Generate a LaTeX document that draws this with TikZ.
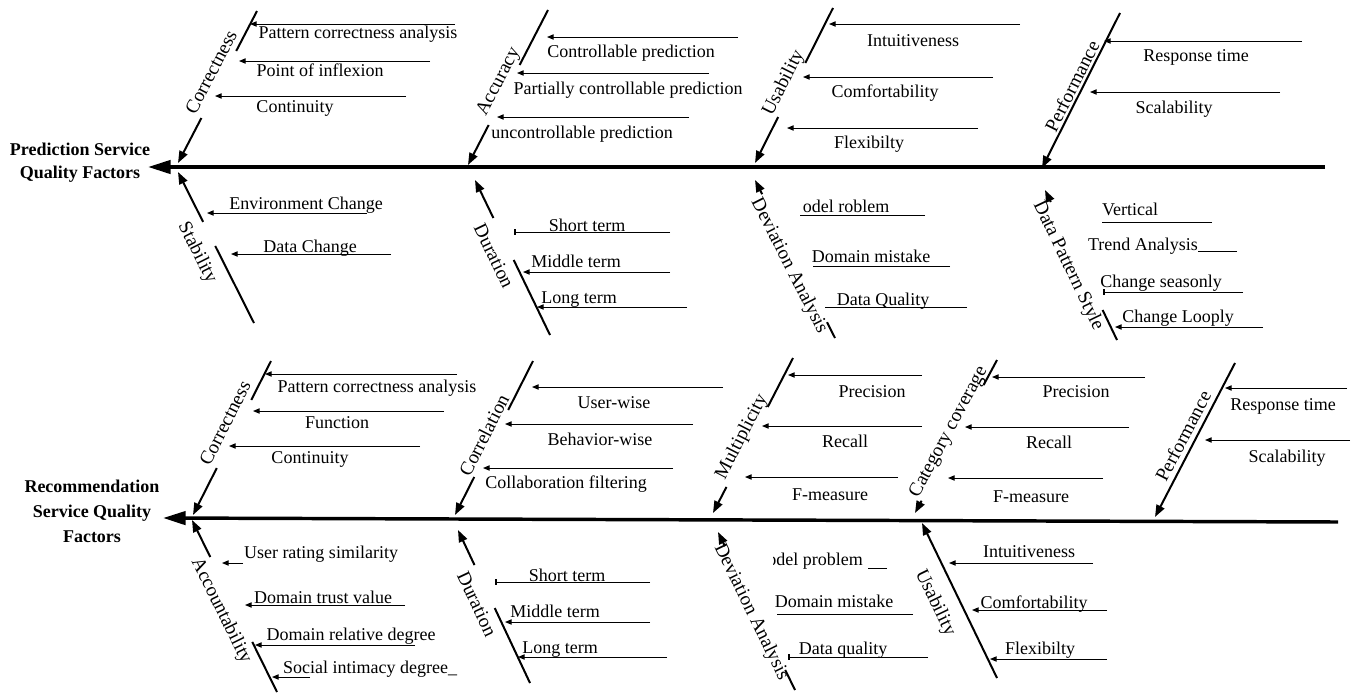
\documentclass[tikz,border=0pt]{standalone}
\usepackage{fontspec}
\setmainfont{Liberation Serif}
\usetikzlibrary{arrows.meta,calc}
\newcommand\myfs{\fontsize{13.5}{17}\selectfont}
\newcommand\catfs{\fontsize{14.5}{17}\selectfont}
% sub arrow: [style]{name}{x right}{x tip}{y}
\newcommand\sarr[5][sub]{\coordinate (#2r) at (#3,#5);\coordinate (#2t) at (#4,#5);\draw[#1] (#2r) -- (#2t);}
% bone with a gap: {tip}{far end}{frac a}{frac b}
\newcommand\bonegap[4]{\draw[bonea] ($(#1)!#3!(#2)$) -- (#1);\draw[bone] ($(#1)!#4!(#2)$) -- (#2);}
\tikzset{
  spine/.style={line width=2.6pt,-{Triangle[length=17pt,width=10pt]}},
  bone/.style={line width=1.5pt},
  bonea/.style={line width=1.5pt,-{Triangle[length=9pt,width=6.5pt]}},
  sub/.style={line width=0.7pt,-{Triangle[length=5pt,width=4pt]}},
  subbar/.style={line width=0.7pt,-{Bar[width=4pt,line width=1.4pt]}},
  plain/.style={line width=0.7pt},
  lbl/.style={font=\myfs,inner sep=0pt,anchor=base},
  cat/.style={font=\catfs,inner sep=1pt},
  title/.style={font=\myfs\bfseries,align=center,inner sep=0pt},
}
\begin{document}
\begin{tikzpicture}[x=0.75pt,y=-0.75pt]
\useasboundingbox (0,0) rectangle (1359,693);
% ================= Prediction =================
\node[title] (title1) at (80,163) {Prediction Service\\Quality Factors};
\coordinate (S1r) at (1325,167); \coordinate (S1l) at (148,167);
\draw[spine] (S1r) -- (S1l);
% upper bones
\coordinate (CorT) at (257,11);  \coordinate (CorP) at (178,163);
\bonegap{CorP}{CorT}{0.296}{0.737}
\node[cat,rotate=62.5] (corl) at (211,72) {Correctness};
\coordinate (AccT) at (548,10);  \coordinate (AccP) at (468,165);
\bonegap{AccP}{AccT}{0.258}{0.645}
\node[cat,rotate=62.7] (accl) at (499,82) {Accuracy};
\coordinate (UsaT) at (833,8);   \coordinate (UsaP) at (755,163);
\bonegap{UsaP}{UsaT}{0.297}{0.645}
\node[cat,rotate=63.3] (usal) at (784,83) {Usability};
\coordinate (PerT) at (1120,13); \coordinate (PerP) at (1042,168);
\draw[bonea] (PerT) -- (PerP);
\node[cat,rotate=63.3] (perl) at (1072,86) {Performance};
% lower bones
\coordinate (StaP) at (178,172); \coordinate (StaB) at (254,323);
\bonegap{StaP}{StaB}{0.33}{0.49}
\node[cat,rotate=-63.3] (stal) at (197,253) {Stability};
\coordinate (DurP) at (475,180); \coordinate (DurB) at (550,335);
\bonegap{DurP}{DurB}{0.245}{0.516}
\node[cat,rotate=-64.2] (durl) at (494,256) {Duration};
\coordinate (DevP) at (755,180); \coordinate (DevB) at (835,338);
\bonegap{DevP}{DevB}{0.09}{0.9}
\node[cat,rotate=-63.1] (devl) at (789,266) {Deviation Analysis};
\coordinate (DpsP) at (1045,190); \coordinate (DpsB) at (1117,340);
\bonegap{DpsP}{DpsB}{0.08}{0.8}
\node[cat,rotate=-64.4] (dpsl) at (1068,266) {Data Pattern Style};
% sub items
\sarr{c1}{455}{250}{24}   \node[lbl] (c1l) at (358,38) {Pattern correctness analysis};
\sarr{c2}{430}{239}{61}   \node[lbl] (c2l) at (320,76) {Point of inflexion};
\sarr{c3}{406}{215}{96}   \node[lbl] (c3l) at (295,112) {Continuity};
\sarr{a1}{738}{547}{37}   \node[lbl] (a1l) at (631,57) {Controllable prediction};
\sarr{a2}{709}{517}{73}   \node[lbl] (a2l) at (628,94) {Partially controllable prediction};
\sarr{a3}{689}{497}{117}  \node[lbl] (a3l) at (582,138) {uncontrollable prediction};
\sarr{u1}{1020}{829}{24}  \node[lbl] (u1l) at (913,46) {Intuitiveness};
\sarr{u2}{993}{803}{77}   \node[lbl] (u2l) at (885,97) {Comfortability};
\sarr{u3}{978}{787}{128}  \node[lbl] (u3l) at (869,148) {Flexibilty};
\sarr{p1}{1302}{1104}{41} \node[lbl] (p1l) at (1196,61) {Response time};
\sarr{p2}{1280}{1090}{92} \node[lbl] (p2l) at (1174,113) {Scalability};
\sarr{s1}{367}{207}{213}  \node[lbl] (s1l) at (306,209) {Environment Change};
\sarr{s2}{391}{231}{254}  \node[lbl] (s2l) at (310,252) {Data Change};
\sarr[subbar]{d1}{670}{514}{232} \node[lbl] (d1l) at (587,231) {Short term};
\sarr{d2}{670}{523}{272}  \node[lbl] (d2l) at (576,267) {Middle term};
\sarr{d3}{687}{537}{307}  \node[lbl] (d3l) at (579,303) {Long term};
\sarr[plain]{v1}{925}{800}{215} \node[lbl] (v1l) at (846,212) {odel roblem};
\sarr[plain]{v2}{950}{813}{266} \node[lbl] (v2l) at (871,262) {Domain mistake};
\sarr[plain]{v3}{967}{825}{307} \node[lbl] (v3l) at (883,305) {Data Quality};
\sarr[plain]{t1}{1212}{1102}{222} \node[lbl] (t1l) at (1130,215) {Vertical};
\sarr[plain]{t2}{1237}{1198}{251} \node[lbl] (t2l) at (1143,250) {Trend Analysis};
\sarr[subbar]{t3}{1243}{1103}{292} \node[lbl] (t3l) at (1161,287) {Change seasonly};
\sarr{t4}{1263}{1115}{327} \node[lbl] (t4l) at (1178,322) {Change Looply};
% ================= Recommendation =================
\node[title,font=\bfseries\fontsize{13.5}{18.75}\selectfont] (title2) at (92,511) {Recommendation\\Service Quality\\Factors};
\coordinate (S2r) at (1338,522); \coordinate (S2l) at (163,518);
\draw[spine] (S2r) -- (S2l);
% upper bones
\coordinate (CorBT) at (271,361); \coordinate (CorBP) at (193,515);
\bonegap{CorBP}{CorBT}{0.305}{0.747}
\node[cat,rotate=63.1] (corbl) at (225,423) {Correctness};
\coordinate (CrlT) at (533,361); \coordinate (CrlP) at (455,515);
\bonegap{CrlP}{CrlT}{0.247}{0.682}
\node[cat,rotate=63.1] (crll) at (484,435) {Correlation};
\coordinate (MulT) at (793,358); \coordinate (MulP) at (713,513);
\bonegap{MulP}{MulT}{0.168}{0.684}
\node[cat,rotate=62.7] (mull) at (742,437) {Multiplicity};
\coordinate (CatT) at (997,360); \coordinate (CatP) at (915,513);
\bonegap{CatP}{CatT}{0.08}{0.837}
\node[cat,rotate=61.8] (catl) at (949,432) {Category coverage};
\coordinate (PerBT) at (1235,363); \coordinate (PerBP) at (1155,517);
\draw[bonea] (PerBT) -- (PerBP);
\node[cat,rotate=62.5] (perbl) at (1183,436) {Performance};
% lower bones
\coordinate (AcbP) at (192,520); \coordinate (AcbB) at (277,692);
\bonegap{AcbP}{AcbB}{0.215}{0.709}
\node[cat,rotate=-63.7] (acbl) at (221,611) {Accountability};
\coordinate (DurBP) at (458,530); \coordinate (DurBB) at (530,683);
\bonegap{DurBP}{DurBB}{0.229}{0.51}
\node[cat,rotate=-64.8] (durbl) at (477,604) {Duration};
\coordinate (DevBP) at (718,532); \coordinate (DevBB) at (795,690);
\bonegap{DevBP}{DevBB}{0.09}{0.873}
\node[cat,rotate=-64] (devbl) at (751,612) {Deviation Analysis};
\coordinate (UsaBP) at (922,523); \coordinate (UsaBB) at (997,678);
\draw[bonea] (UsaBB) -- (UsaBP);
\node[cat,rotate=-64.2] (usabl) at (935,603) {Usability};
% sub items
\sarr{r1}{457}{265}{374}  \node[lbl] (r1l) at (377,392) {Pattern correctness analysis};
\sarr{r2}{444}{253}{411}  \node[lbl] (r2l) at (337,428) {Function};
\sarr{r3}{420}{229}{446}  \node[lbl] (r3l) at (310,463) {Continuity};
\sarr{k1}{723}{532}{387}  \node[lbl] (k1l) at (614,408) {User-wise};
\sarr{k2}{693}{505}{424}  \node[lbl] (k2l) at (600,445) {Behavior-wise};
\sarr{k3}{673}{483}{468}  \node[lbl] (k3l) at (566,488) {Collaboration filtering};
\sarr{m1}{922}{788}{375}  \node[lbl] (m1l) at (872,397) {Precision};
\sarr{m2}{922}{762}{426}  \node[lbl] (m2l) at (845,447) {Recall};
\sarr{m3}{898}{745}{477}  \node[lbl] (m3l) at (830,500) {F-measure};
\sarr{g1}{1145}{992}{377} \node[lbl] (g1l) at (1076,397) {Precision};
\sarr{g2}{1129}{965}{427} \node[lbl] (g2l) at (1049,448) {Recall};
\sarr{g3}{1103}{948}{478} \node[lbl] (g3l) at (1031,502) {F-measure};
\sarr{q1}{1347}{1225}{388} \node[lbl] (q1l) at (1283,410) {Response time};
\sarr{q2}{1350}{1205}{440} \node[lbl] (q2l) at (1287,462) {Scalability};
\sarr{w1}{243}{222}{563}  \node[lbl] (w1l) at (321,558) {User rating similarity};
\sarr{w2}{405}{245}{605}  \node[lbl] (w2l) at (323,603) {Domain trust value};
\sarr{w3}{415}{255}{645}  \node[lbl] (w3l) at (351,640) {Domain relative degree};
\sarr{w4}{310}{272}{677}  \node[lbl] (w4l) at (370,673) {Social intimacy degree\_};
\sarr[subbar]{e1}{650}{495}{582} \node[lbl] (e1l) at (567,581) {Short term};
\sarr{e2}{650}{505}{622}  \node[lbl] (e2l) at (555,617) {Middle term};
\sarr{e3}{667}{518}{657}  \node[lbl] (e3l) at (560,653) {Long term};
\begin{scope}
  \clip (773,540) rectangle (885,575);
  \node[lbl,anchor=base west] (f1l) at (767,565) {odel problem};
\end{scope}
\sarr[plain]{f1}{887}{868}{568}
\sarr[plain]{f2}{913}{777}{614} \node[lbl] (f2l) at (834,607) {Domain mistake};
\sarr[subbar]{f3}{928}{788}{657} \node[lbl] (f3l) at (843,654) {Data quality};
\sarr{h1}{1093}{949}{563}  \node[lbl] (h1l) at (1029,557) {Intuitiveness};
\sarr{h2}{1107}{972}{610}  \node[lbl] (h2l) at (1034,608) {Comfortability};
\sarr{h3}{1107}{990}{659}  \node[lbl] (h3l) at (1040,654) {Flexibilty};
\end{tikzpicture}
\end{document}
